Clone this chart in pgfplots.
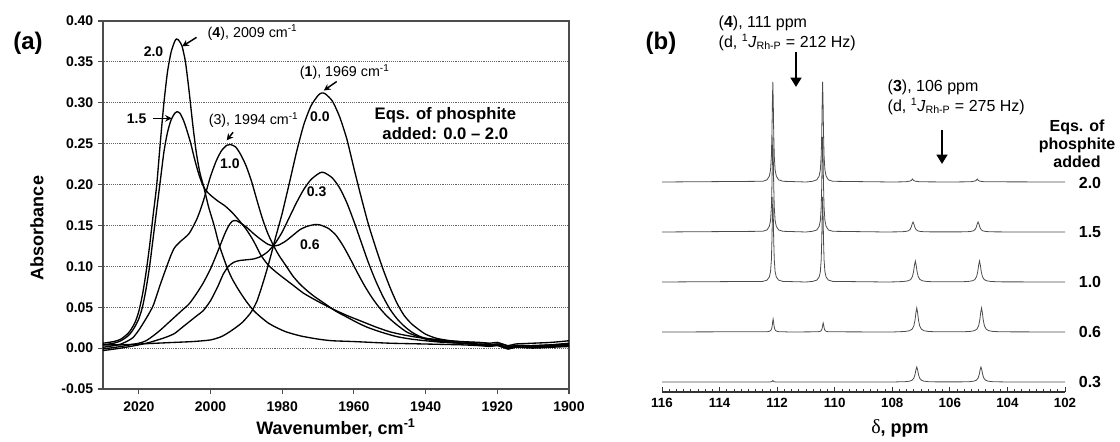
\documentclass[border=0pt]{standalone}
\usepackage{pgfplots}
\pgfplotsset{compat=1.18}
\usepackage{fontspec}
\setmainfont{Liberation Sans}
\newfontfamily\seriffont{Liberation Serif}
\usetikzlibrary{arrows.meta}

\begin{document}
\begin{tikzpicture}
\useasboundingbox (0,0) rectangle (840pt,331.5pt);

% ---------------- (a) IR ----------------
\begin{axis}[
  at={(77.25pt,39.75pt)}, anchor=south west,
  scale only axis, width=349.5pt, height=276pt,
  x dir=reverse, xmin=1900, xmax=2030, ymin=-0.05, ymax=0.40,
  xtick={1900,1920,1940,1960,1980,2000,2020},
  ytick={-0.05,0,0.05,0.1,0.15,0.2,0.25,0.3,0.35,0.4},
  /pgf/number format/assume math mode=true,
  yticklabel style={/pgf/number format/.cd, fixed, fixed zerofill, precision=2},
  xticklabel style={/pgf/number format/1000 sep={}, yshift=-2pt},
  tick label style={font=\fontsize{10.5}{12}\selectfont\bfseries},
  ymajorgrids, grid style={densely dotted, black!60, line width=0.8pt},
  tick align=outside, tick pos=left, major tick length=3.75pt,
  axis line style={black!70, line width=0.8pt},
  tick style={black!70, line width=0.8pt},
  clip mode=individual,
]
% 0.0
\addplot[black, line width=1pt, smooth, tension=0.4] coordinates {
(2030,0.004)(2025,0.004)(2020,0.005)(2015,0.006)(2010,0.007)(2005,0.008)(2000,0.010)(1997,0.014)(1995,0.019)(1993,0.025)(1991,0.032)(1989,0.042)(1988,0.049)(1987,0.058)(1986,0.071)(1985,0.085)(1984,0.100)(1983,0.116)(1982,0.133)(1981,0.149)(1980,0.165)(1978,0.202)(1976,0.240)(1974,0.273)(1972,0.296)(1970,0.309)(1969,0.312)(1968,0.311)(1966,0.302)(1964,0.283)(1962,0.256)(1960,0.220)(1958,0.185)(1956,0.152)(1954,0.124)(1952,0.098)(1950,0.075)(1948,0.055)(1946,0.040)(1944,0.030)(1942,0.023)(1940,0.017)(1937,0.012)(1933,0.009)(1928,0.007)(1923,0.006)(1922,0.004)(1920,0.005)(1918,0.004)(1917,0.002)(1915,0.003)(1910,0.003)(1905,0.004)(1900,0.005)};
% 0.3
\addplot[black, line width=1pt, smooth, tension=0.4] coordinates {
(2030,-0.003)(2025,0.000)(2020,0.004)(2017,0.007)(2014,0.011)(2012,0.014)(2010,0.018)(2008,0.025)(2006,0.032)(2004,0.039)(2002,0.046)(2000,0.058)(1998,0.075)(1996.5,0.090)(1995,0.100)(1993.5,0.105)(1992,0.107)(1990,0.108)(1988,0.109)(1986,0.112)(1984,0.118)(1982,0.128)(1980,0.142)(1978,0.160)(1976,0.178)(1974,0.194)(1972,0.206)(1970,0.213)(1969,0.215)(1968,0.214)(1966,0.208)(1964,0.196)(1962,0.178)(1960,0.155)(1958,0.130)(1956,0.105)(1954,0.083)(1952,0.064)(1950,0.048)(1948,0.036)(1946,0.027)(1944,0.020)(1942,0.015)(1940,0.012)(1936,0.009)(1930,0.006)(1925,0.004)(1922,0.003)(1920,0.004)(1917,-0.001)(1915,0.001)(1910,0.000)(1905,0.001)(1900,0.002)};
% 0.6
\addplot[black, line width=1pt, smooth, tension=0.4] coordinates {
(2030,-0.001)(2025,0.002)(2020,0.006)(2018,0.009)(2016,0.015)(2014,0.022)(2012,0.030)(2010,0.038)(2008,0.046)(2006,0.054)(2004,0.066)(2002,0.080)(2000,0.097)(1998,0.118)(1996,0.140)(1995,0.149)(1994,0.155)(1993,0.156)(1992,0.154)(1990,0.148)(1988,0.140)(1986,0.133)(1984,0.127)(1982.5,0.125)(1981,0.126)(1979,0.131)(1977,0.138)(1975,0.145)(1973,0.149)(1971,0.151)(1970,0.151)(1969,0.150)(1967,0.146)(1965,0.138)(1963,0.125)(1961,0.109)(1959,0.092)(1957,0.076)(1955,0.062)(1953,0.050)(1951,0.040)(1949,0.032)(1947,0.025)(1945,0.019)(1942,0.014)(1940,0.011)(1936,0.008)(1930,0.006)(1925,0.004)(1922,0.003)(1920,0.004)(1917,0.000)(1915,0.002)(1910,0.002)(1905,0.003)(1900,0.004)};
% 1.0
\addplot[black, line width=1pt, smooth, tension=0.4] coordinates {
(2030,0.001)(2027,0.003)(2025,0.005)(2023,0.009)(2021.6,0.013)(2020,0.022)(2018,0.036)(2016,0.052)(2014,0.078)(2012.2,0.100)(2011,0.114)(2010,0.123)(2008.5,0.130)(2006,0.140)(2004,0.156)(2003,0.167)(2002,0.180)(2001,0.195)(2000,0.210)(1998.5,0.228)(1997,0.241)(1995.5,0.248)(1994.5,0.249)(1993,0.246)(1991.5,0.236)(1990,0.222)(1988.5,0.203)(1987,0.180)(1985.5,0.158)(1984,0.140)(1982.5,0.126)(1981,0.114)(1979,0.101)(1977,0.088)(1975,0.078)(1973,0.070)(1971,0.063)(1969,0.057)(1967,0.051)(1965,0.045)(1962,0.038)(1959,0.031)(1956,0.025)(1952,0.019)(1948,0.014)(1944,0.011)(1940,0.009)(1935,0.007)(1930,0.006)(1925,0.005)(1922,0.004)(1920,0.005)(1917,0.001)(1915,0.003)(1910,0.003)(1905,0.004)(1900,0.006)};
% 1.5
\addplot[black, line width=1pt, smooth, tension=0.4] coordinates {
(2030,0.004)(2027,0.006)(2025,0.009)(2023,0.015)(2022,0.020)(2021,0.027)(2020,0.036)(2019,0.050)(2018,0.072)(2017,0.100)(2016,0.135)(2015,0.170)(2014,0.205)(2013,0.240)(2012,0.264)(2011,0.279)(2010,0.287)(2009.3,0.289)(2008.5,0.287)(2007.5,0.278)(2006.5,0.265)(2005.5,0.250)(2004.5,0.232)(2003.5,0.216)(2002.5,0.203)(2001.5,0.194)(2000,0.187)(1998,0.180)(1996,0.174)(1994,0.166)(1992,0.156)(1990,0.145)(1988,0.131)(1986,0.114)(1984,0.102)(1982,0.094)(1980,0.087)(1977,0.077)(1974,0.067)(1970,0.057)(1966,0.048)(1962,0.040)(1958,0.033)(1954,0.026)(1950,0.020)(1946,0.016)(1942,0.013)(1938,0.011)(1934,0.009)(1930,0.008)(1925,0.007)(1922,0.006)(1920,0.007)(1917,0.003)(1915,0.005)(1910,0.006)(1905,0.007)(1900,0.009)};
% 2.0
\addplot[black, line width=1pt, smooth, tension=0.4] coordinates {
(2030,0.006)(2027,0.008)(2025,0.011)(2023,0.018)(2022,0.024)(2021,0.032)(2020,0.045)(2019,0.065)(2018,0.092)(2017,0.125)(2016,0.163)(2015,0.200)(2014,0.252)(2013,0.300)(2012,0.338)(2011,0.362)(2010,0.375)(2009.5,0.378)(2009,0.377)(2008,0.370)(2007,0.350)(2006,0.315)(2005,0.275)(2004,0.240)(2003,0.215)(2002,0.199)(2001.5,0.190)(2000.5,0.172)(1999,0.150)(1997.5,0.125)(1995.5,0.100)(1994,0.085)(1992,0.070)(1990,0.057)(1988,0.046)(1986,0.038)(1984,0.031)(1982,0.026)(1979,0.020)(1975,0.015)(1970,0.011)(1966,0.009)(1960,0.008)(1950,0.006)(1940,0.005)(1930,0.004)(1925,0.003)(1922,0.002)(1920,0.003)(1917,-0.001)(1915,0.001)(1910,0.001)(1905,0.002)(1900,0.003)};

\tikzset{lbl/.style={font=\fontsize{10.5}{12}\selectfont\bfseries},
         ann/.style={font=\fontsize{10.7}{12}\selectfont, anchor=west},
         arr/.style={line width=1.1pt, -{Stealth[length=5pt,width=5pt]}}}
\node[lbl] at (axis cs:2015.9,0.362) {2.0};
\node[ann] at (axis cs:2002.1,0.386) {(\textbf{4}), 2009 cm\textsuperscript{-1}};
\draw[arr] (axis cs:2003.9,0.380) -- (axis cs:2007.9,0.369);
\node[lbl] at (axis cs:2020.6,0.281) {1.5};
\draw[arr] (axis cs:2016,0.281) -- (axis cs:2010.8,0.281);
\node[ann] at (axis cs:2001.8,0.279) {(3), 1994 cm\textsuperscript{-1}};
\draw[arr] (axis cs:1993.7,0.264) -- (axis cs:1995.5,0.254);
\node[lbl] at (axis cs:1994.6,0.226) {1.0};
\node[ann] at (axis cs:1976.4,0.338) {(\textbf{1}), 1969 cm\textsuperscript{-1}};
\draw[arr] (axis cs:1964.8,0.326) -- (axis cs:1968.4,0.315);
\node[lbl] at (axis cs:1969.5,0.283) {0.0};
\node[lbl] at (axis cs:1970.4,0.191) {0.3};
\node[lbl] at (axis cs:1972.3,0.127) {0.6};
\node[font=\fontsize{12.5}{14.5}\selectfont\bfseries, align=center] at (axis cs:1934.5,0.2747) {Eqs. of phosphite\\added: 0.0 -- 2.0};
\end{axis}

% ---------------- (b) NMR ----------------
\begin{axis}[
  at={(496.5pt,37.5pt)}, anchor=south west,
  scale only axis, width=302.25pt, height=247.5pt,
  x dir=reverse, xmin=102, xmax=116, ymin=0, ymax=330,
  axis x line=bottom, axis y line=none,
  axis line style={-, black!80, line width=0.8pt},
  xtick={102,104,106,108,110,112,114,116},
  minor x tick num=7,
  tick align=inside, major tick length=4pt, minor tick length=2.2pt,
  tick style={black!80, line width=0.6pt},
  /pgf/number format/assume math mode=true,
  xticklabel style={font=\fontsize{10}{12}\selectfont\bfseries, yshift=-1pt},
  clip=false,
]
% 2.0
\addplot[black!70, line width=0.6pt] coordinates {
(116,210)(112.50,210.7)(112.35,212.2)(112.27,216)(112.23,222)(112.20,236)(112.18,260)(112.165,290)(112.15,310)(112.135,290)(112.12,260)(112.10,236)(112.07,222)(112.03,216)(111.95,212.2)(111.80,210.7)(111.0,210)(110.77,210.7)(110.62,212.2)(110.54,216)(110.50,222)(110.47,236)(110.45,260)(110.435,290)(110.42,310)(110.405,290)(110.39,260)(110.37,236)(110.34,222)(110.30,216)(110.22,212.2)(110.07,210.7)(108,210)(107.55,210.2)(107.40,210.8)(107.34,211.5)(107.30,213)(107.26,211.5)(107.20,210.8)(107.05,210.2)(106,210)(105.30,210.2)(105.15,210.8)(105.09,211.5)(105.05,213)(105.01,211.5)(104.95,210.8)(104.80,210.2)(102,210)};
% 1.5
\addplot[black!70, line width=0.6pt] coordinates {
(116,160)(112.50,160.7)(112.35,162.1)(112.27,165.7)(112.23,171.4)(112.20,184.7)(112.18,207.5)(112.165,236)(112.15,255)(112.135,236)(112.12,207.5)(112.10,184.7)(112.07,171.4)(112.03,165.7)(111.95,162.1)(111.80,160.7)(111.0,160)(110.77,160.7)(110.62,162.1)(110.54,165.7)(110.50,171.4)(110.47,184.7)(110.45,207.5)(110.435,236)(110.42,255)(110.405,236)(110.39,207.5)(110.37,184.7)(110.34,171.4)(110.30,165.7)(110.22,162.1)(110.07,160.7)(108.2,160)(107.98,160.1)(107.68,160.2)(107.53,160.6)(107.44,161.2)(107.38,162.6)(107.34,165)(107.31,168)(107.28,170)(107.25,168)(107.22,165)(107.18,162.6)(107.12,161.2)(107.03,160.6)(106.88,160.2)(106.58,160.1)(105.72,160.1)(105.42,160.2)(105.27,160.6)(105.18,161.2)(105.12,162.6)(105.08,165)(105.05,168)(105.02,170)(104.99,168)(104.96,165)(104.92,162.6)(104.86,161.2)(104.77,160.6)(104.62,160.2)(104.32,160.1)(102,160)};
% 1.0
\addplot[black!70, line width=0.6pt] coordinates {
(116,110)(112.50,110.6)(112.35,111.9)(112.27,115.1)(112.23,120.2)(112.20,132.1)(112.18,152.5)(112.165,178)(112.15,195)(112.135,178)(112.12,152.5)(112.10,132.1)(112.07,120.2)(112.03,115.1)(111.95,111.9)(111.80,110.6)(111.0,110)(110.77,110.6)(110.62,111.9)(110.54,115.1)(110.50,120.2)(110.47,132.1)(110.45,152.5)(110.435,178)(110.42,195)(110.405,178)(110.39,152.5)(110.37,132.1)(110.34,120.2)(110.30,115.1)(110.22,111.9)(110.07,110.6)(108.2,110)(107.9,110.15)(107.6,110.5)(107.45,111.2)(107.36,112.5)(107.30,115.5)(107.26,120.5)(107.23,126.8)(107.2,131)(107.17,126.8)(107.14,120.5)(107.10,115.5)(107.04,112.5)(106.95,111.2)(106.8,110.5)(106.5,110.15)(105.67,110.15)(105.37,110.5)(105.22,111.2)(105.13,112.5)(105.07,115.5)(105.03,120.5)(105.0,126.8)(104.97,131)(104.94,126.8)(104.91,120.5)(104.87,115.5)(104.81,112.5)(104.72,111.2)(104.57,110.5)(104.27,110.15)(102,110)};
% 0.6
\addplot[black!70, line width=0.6pt] coordinates {
(116,60)(112.34,60.3)(112.26,60.8)(112.22,61.6)(112.19,63.4)(112.17,66.5)(112.155,70.4)(112.14,73)(112.125,70.4)(112.11,66.5)(112.09,63.4)(112.06,61.6)(112.02,60.8)(111.94,60.3)(111.5,60)(110.60,60.2)(110.52,60.5)(110.48,61.1)(110.45,62.3)(110.43,64.5)(110.415,67.2)(110.40,69)(110.385,67.2)(110.37,64.5)(110.35,62.3)(110.32,61.1)(110.28,60.5)(110.2,60.2)(108.0,60)(107.85,60.17)(107.55,60.53)(107.40,61.3)(107.31,62.9)(107.25,66.2)(107.21,72)(107.18,79.2)(107.15,84)(107.12,79.2)(107.09,72)(107.05,66.2)(106.99,62.9)(106.90,61.3)(106.75,60.53)(106.45,60.17)(105.60,60.17)(105.30,60.53)(105.15,61.3)(105.06,62.9)(105.0,66.2)(104.96,72)(104.93,79.2)(104.9,84)(104.87,79.2)(104.84,72)(104.8,66.2)(104.74,62.9)(104.65,61.3)(104.5,60.53)(104.2,60.17)(102,60)};
% 0.3
\addplot[black!70, line width=0.6pt] coordinates {
(116,10)(112.25,10)(112.18,10.4)(112.15,11.5)(112.12,10.4)(112.05,10)(108,10)(107.85,10.1)(107.55,10.33)(107.40,10.83)(107.31,11.8)(107.25,13.9)(107.21,17.5)(107.18,22)(107.15,25)(107.12,22)(107.09,17.5)(107.05,13.9)(106.99,11.8)(106.90,10.83)(106.75,10.33)(106.45,10.1)(105.62,10.1)(105.32,10.33)(105.17,10.83)(105.08,11.8)(105.02,13.9)(104.98,17.5)(104.95,22)(104.92,25)(104.89,22)(104.86,17.5)(104.82,13.9)(104.76,11.8)(104.67,10.83)(104.52,10.33)(104.22,10.1)(102,10)};
\end{axis}

% ---------------- free text (pixel coordinates, y downward) ----------------
\begin{scope}[shift={(0,331.5pt)}, x=0.75pt, y=-0.75pt]
\node[font=\fontsize{18}{20}\selectfont\bfseries] at (28,43) {(a)};
\node[font=\fontsize{18}{20}\selectfont\bfseries] at (661,43) {(b)};
\node[rotate=90, font=\fontsize{13.5}{15}\selectfont\bfseries] at (37,228) {Absorbance};
\node[font=\fontsize{13.5}{15}\selectfont\bfseries] at (336,428) {Wavenumber, cm\textsuperscript{-1}};
\node[font=\fontsize{13.5}{15}\selectfont\bfseries] at (900,428) {{\seriffont\mdseries\fontsize{15}{15}\selectfont δ}, ppm};
\node[anchor=west, align=left, font=\fontsize{12}{15}\selectfont] at (714,33)
  {(\textbf{4}), 111 ppm\\(d, \textsuperscript{1}\textit{J}\textsubscript{Rh-P} = 212 Hz)};
\node[anchor=west, align=left, font=\fontsize{12}{15}\selectfont] at (883,97)
  {(\textbf{3}), 106 ppm\\(d, \textsuperscript{1}\textit{J}\textsubscript{Rh-P} = 275 Hz)};
\draw[line width=2.2pt, -{Triangle[length=7pt,width=8pt]}] (796,52) -- (796,87);
\draw[line width=2.2pt, -{Triangle[length=7pt,width=8pt]}] (942,130) -- (942,164);
\node[font=\fontsize{12}{13.5}\selectfont\bfseries, align=center] at (1077,144) {Eqs. of\\phosphite\\added};
\node[font=\fontsize{12}{14}\selectfont\bfseries] at (1090,183) {2.0};
\node[font=\fontsize{12}{14}\selectfont\bfseries] at (1090,232) {1.5};
\node[font=\fontsize{12}{14}\selectfont\bfseries] at (1090,282) {1.0};
\node[font=\fontsize{12}{14}\selectfont\bfseries] at (1090,332) {0.6};
\node[font=\fontsize{12}{14}\selectfont\bfseries] at (1090,382) {0.3};
\end{scope}
\end{tikzpicture}
\end{document}
